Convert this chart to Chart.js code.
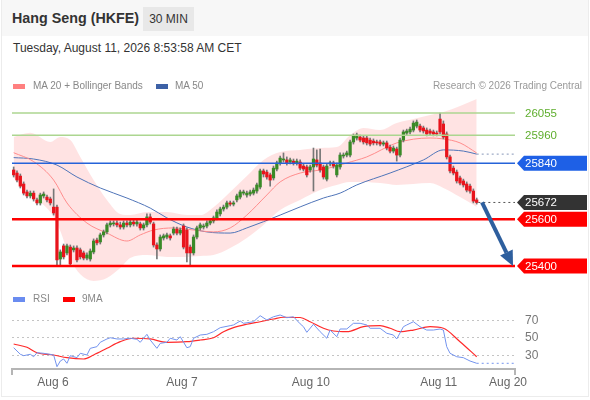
<!DOCTYPE html>
<html>
<head>
<meta charset="utf-8">
<script src="https://cdn.jsdelivr.net/npm/chart.js@4.4.1/dist/chart.umd.min.js"></script>
<style>
  body { margin: 0; background: #fff; font-family: Arial, "Liberation Sans", sans-serif; }
  #wrap { position: relative; width: 590px; height: 400px; overflow: hidden; }
  .frame { position: absolute; left: 1px; top: 0; width: 586px; height: 396px; border: 1px solid #ececec; border-top: none; }
  .head { position: absolute; left: 2px; top: 0; width: 586px; height: 36px; background: #f7f7f7; }
  .title { position: absolute; left: 12px; top: 10px; font-size: 14.3px; font-weight: bold; color: #333; }
  .tf { position: absolute; left: 143px; top: 7px; width: 51px; height: 24px; background: #e8e8e8; font-size: 12px; color: #333; line-height: 24px; text-align: center; }
  .date { position: absolute; left: 13px; top: 41px; font-size: 12px; color: #333; }
  .leg { position: absolute; font-size: 10px; color: #888; white-space: nowrap; }
  .sw { position: absolute; width: 12px; height: 5px; }
  canvas { position: absolute; left: 0; }
</style>
</head>
<body>
<div id="wrap">
  <div class="frame"></div>
  <div class="head"></div>
  <div class="title">Hang Seng (HKFE)</div>
  <div class="tf">30 MIN</div>
  <div class="date">Tuesday, August 11, 2026 8:53:58 AM CET</div>

  <canvas id="main" width="590" height="200" style="top:88px"></canvas>
  <canvas id="rsi" width="590" height="108" style="top:290px"></canvas>

  <div class="sw" style="left:13px;top:84px;background:#ff8080"></div>
  <div class="leg" style="left:33px;top:80px">MA 20 + Bollinger Bands</div>
  <div class="sw" style="left:156px;top:84px;background:#3d61a6"></div>
  <div class="leg" style="left:175px;top:80px">MA 50</div>
  <div class="leg" style="right:8px;top:80px;color:#999">Research © 2026 Trading Central</div>

  <div class="sw" style="left:13px;top:297px;background:#6a8cf0"></div>
  <div class="leg" style="left:33px;top:293px">RSI</div>
  <div class="sw" style="left:63px;top:297px;background:#ff0000"></div>
  <div class="leg" style="left:82px;top:293px">9MA</div>
</div>

<script>
// 30 min candles, Aug 6 -> Aug 11 (index = candle number)
const opens = [25811,25798,25785,25751,25717,25700,25712,25683,25670,25700,25695,25687,25652,25652,25430,25486,25456,25481,25469,25477,
  25469,25456,25434,25430,25460,25511,25503,25533,25546,25576,25580,25584,25576,25567,25584,25576,25588,25580,25580,25563,
  25576,25610,25580,25490,25473,25520,25524,25529,25541,25558,25541,25571,25554,25481,25456,25524,25563,25567,25571,25584,
  25593,25606,25623,25644,25652,25670,25665,25683,25695,25712,25704,25708,25712,25721,25738,25807,25802,25790,25777,25815,
  25841,25854,25854,25845,25849,25841,25845,25828,25824,25811,25824,25854,25841,25824,25772,25837,25841,25790,25824,25871,
  25875,25875,25931,25948,25952,25948,25948,25939,25935,25931,25931,25922,25927,25909,25892,25901,25875,25939,25969,25974,
  25982,25999,25999,25991,25982,25978,25974,25969,26029,26008,25965,25867,25819,25802,25777,25764,25751,25742,25721,25683];
const closes = [25790,25768,25742,25712,25700,25712,25687,25670,25704,25708,25683,25670,25627,25426,25460,25439,25486,25409,25477,25426,
  25439,25434,25447,25464,25507,25499,25533,25546,25576,25584,25584,25576,25567,25584,25576,25588,25580,25588,25563,25576,
  25610,25588,25490,25473,25524,25529,25533,25520,25558,25541,25554,25481,25456,25456,25524,25563,25576,25571,25584,25593,
  25606,25631,25644,25652,25670,25665,25670,25700,25717,25717,25712,25717,25725,25747,25807,25794,25781,25768,25819,25841,
  25862,25858,25841,25854,25841,25849,25819,25815,25790,25824,25858,25832,25811,25781,25828,25841,25828,25832,25875,25875,
  25884,25931,25957,25961,25939,25931,25927,25922,25927,25927,25922,25927,25905,25892,25905,25875,25939,25974,25978,25986,
  26012,26016,25982,25978,25965,25969,25965,25965,25974,25952,25867,25807,25798,25764,25755,25747,25725,25721,25678,25672];
const highs = [25824,25807,25794,25760,25725,25721,25721,25691,25712,25717,25704,25695,25730,25661,25469,25494,25494,25490,25486,25486,
  25477,25464,25456,25473,25516,25520,25541,25554,25584,25593,25593,25593,25588,25593,25593,25597,25597,25597,25588,25584,
  25623,25623,25588,25499,25533,25537,25541,25537,25567,25567,25563,25580,25563,25490,25533,25571,25584,25580,25593,25601,
  25614,25640,25652,25661,25678,25678,25678,25708,25725,25725,25721,25725,25734,25755,25815,25815,25811,25798,25828,25849,
  25871,25884,25867,25862,25858,25858,25854,25837,25832,25832,25905,25897,25901,25832,25837,25849,25849,25841,25884,25884,
  25892,25939,25965,25969,25961,25957,25957,25948,25944,25939,25939,25935,25935,25918,25914,25909,25948,25982,25986,25995,
  26021,26025,26008,25999,25991,25986,25982,25978,26055,26021,25974,25875,25828,25811,25785,25772,25760,25751,25730,25691];
const lows = [25781,25760,25734,25704,25691,25691,25678,25661,25661,25691,25674,25661,25618,25404,25400,25430,25447,25404,25460,25417,
  25430,25426,25426,25421,25452,25490,25494,25524,25537,25567,25571,25567,25558,25558,25567,25567,25571,25571,25554,25554,
  25567,25580,25481,25430,25464,25511,25516,25511,25533,25533,25533,25473,25417,25404,25447,25516,25554,25558,25563,25576,
  25584,25597,25614,25635,25644,25657,25657,25674,25687,25704,25695,25700,25704,25712,25730,25781,25772,25742,25768,25807,
  25832,25845,25832,25837,25832,25832,25811,25807,25781,25802,25721,25824,25802,25772,25764,25828,25819,25781,25815,25862,
  25867,25867,25922,25939,25931,25922,25918,25914,25918,25918,25914,25914,25897,25884,25884,25849,25867,25931,25961,25965,
  25974,25991,25974,25969,25957,25961,25957,25957,25965,25944,25858,25798,25790,25755,25747,25738,25717,25712,25670,25665];

// indicators at these candle indices
const ma20Idx = [0,6,12,16,22,28,34,38,42,48,54,60,65,70,76,80,86,92,97,100,106,115,125,129,134,139];
const ma20Val = [25885,25847,25768,25670,25584,25541,25507,25533,25554,25563,25554,25546,25563,25618,25704,25760,25798,25811,25828,25841,25867,25927,25948,25944,25927,25884];
const ma50Idx = [0,6,13,19,26,34,41,46,52,58,65,70,80,86,93,98,103,113,123,129,135,139];
const ma50Val = [25864,25858,25832,25781,25734,25691,25648,25606,25567,25546,25541,25563,25618,25653,25691,25712,25747,25798,25854,25897,25892,25879];
const bbIdx = [0,5,11,14,17,20,24,28,32,35,40,46,52,56,60,65,70,75,80,86,92,97,101,105,110,115,120,125,129,134,139];
const bbUpper = [25952,25970,25931,25952,25939,25867,25768,25683,25623,25618,25631,25631,25618,25618,25652,25717,25785,25854,25888,25897,
  25905,25909,25960,25991,25982,26012,26029,26046,26059,26085,26115];
const bbLower = [25777,25704,25631,25550,25430,25365,25336,25349,25391,25434,25447,25439,25439,25443,25447,25477,25520,25576,25640,25683,
  25725,25747,25760,25760,25755,25747,25751,25755,25734,25695,25653];

const levelPrices = [26055, 25960, 25840, 25600, 25400];
const targetPrice = 25400;

const rsiIdx = [0,2,3,5,6,7,9,12,13,14,15,16,17,19,20,22,23,25,26,28,29,31,33,35,37,38,40,41,43,44,46,47,49,50,52,53,54,56,58,60,
  62,65,66,68,69,72,74,76,78,80,82,84,86,87,88,90,92,94,95,97,98,100,102,104,106,107,110,112,114,115,117,118,120,122,124,126,128,129,130,131,133,135,137,139];
const rsiVal = [38.9,31.4,29.8,31.4,28.6,33.2,32.5,30.6,17.2,23.7,26,21.1,29.8,27.5,32.5,30.6,38.2,40.1,45.1,48.9,50.3,48.9,48.9,49.7,48.5,45.1,54.2,47.7,38.2,43.9,
  45.1,49.7,47.7,51.5,38.9,40.1,49.7,53.4,54.2,57.2,61.8,64.1,64.9,69.4,66.8,68.6,75.5,70.6,74.3,76.3,73.2,74.3,66.2,62.9,56.5,65.7,57.2,49.7,59.1,51.5,
  60.3,60.3,66.8,66.8,64.9,61.1,61.1,55.4,53.4,48.9,62.9,64.9,68.6,62.9,59.1,59.1,60.3,59.1,40.1,32.5,28.6,27.5,23.7,21.1];
const rsiMaIdx = [0,4,7,12,16,21,24,28,32,36,41,46,52,56,60,63,66,70,74,78,81,86,89,93,96,100,105,110,113,116,120,125,129,134,139];
const rsiMaVal = [43.1,39.4,33.2,30.6,27.5,26,30.6,38.2,45.8,49.7,48.9,45.1,45.8,47.7,50.3,57.2,61.8,65.7,68.6,71.7,73.7,73.4,68.6,61.1,58,57.2,62.9,64.1,61.1,57.2,
  59.1,62.9,61.1,45.8,28.6];
const rsiTicks = [30, 50, 70];

const dayTickPos = [11.8, 50.5, 89.2, 127.6, 148.4];
const dayLabels = ['Aug 6', 'Aug 7', 'Aug 10', 'Aug 11', 'Aug 20'];

// styles
const FONT = 'Arial, "Liberation Sans", sans-serif';
const UP = '#3a8a27', DOWN = '#e8141c';
const levelLineColor = ['#acd690', '#acd690', '#2563d9', '#ff0000', '#ff0000'];
const levelLineWidth = [1.5, 1.5, 1.5, 2.5, 2.5];
const levelLabelKind = ['text', 'text', 'tag', 'tag', 'tag'];
const levelLabelColor = ['#5fae2e', '#5fae2e', '#1e60e6', '#ff0000', '#ff0000'];

Chart.defaults.font.family = FONT;

const pts = (idx, vals) => idx.map((x, k) => ({ x: x, y: vals[k] }));
const n = closes.length;
const lastClose = closes[n - 1];
const XMAX = 150.5;

const datasets = [];

// level lines on top of candles
levelPrices.forEach((p, i) => {
  datasets.push({
    type: 'line', data: [{ x: -0.5, y: p }, { x: XMAX, y: p }],
    borderColor: levelLineColor[i], borderWidth: levelLineWidth[i], pointRadius: 0, order: -1
  });
});
datasets.push({
  type: 'line', data: [{ x: n - 0.5, y: lastClose }, { x: XMAX, y: lastClose }],
  borderColor: '#555', borderWidth: 1, borderDash: [2, 3], pointRadius: 0, order: -1
});

// candle bodies and wicks
datasets.push({
  type: 'bar', data: opens.map((o, i) => ({ x: i, y: [o, closes[i]] })),
  backgroundColor: opens.map((o, i) => closes[i] >= o ? UP : DOWN),
  barThickness: 2.6, grouped: false, minBarLength: 1, order: 0
});
datasets.push({
  type: 'bar', data: lows.map((l, i) => ({ x: i, y: [l, highs[i]] })),
  backgroundColor: '#777', barThickness: 1, grouped: false, order: 1
});

// moving averages
datasets.push({
  type: 'line', data: pts(ma20Idx, ma20Val), borderColor: '#ff8c8c', borderWidth: 1,
  pointRadius: 0, cubicInterpolationMode: 'monotone', order: 2
});
datasets.push({
  type: 'line', data: pts(ma50Idx, ma50Val), borderColor: '#4f74b8', borderWidth: 1,
  pointRadius: 0, cubicInterpolationMode: 'monotone', order: 2
});
datasets.push({
  type: 'line', data: [{ x: ma50Idx[ma50Idx.length - 1], y: ma50Val[ma50Val.length - 1] }, { x: XMAX, y: ma50Val[ma50Val.length - 1] }],
  borderColor: '#8796b8', borderWidth: 1, borderDash: [2, 3], pointRadius: 0, order: 2
});

// bollinger band (upper fills down to the next dataset)
datasets.push({
  type: 'line', data: pts(bbIdx, bbUpper), borderWidth: 0, borderColor: 'transparent',
  backgroundColor: 'rgba(255,0,0,0.11)', fill: '+1', pointRadius: 0, cubicInterpolationMode: 'monotone', order: 5
});
datasets.push({
  type: 'line', data: pts(bbIdx, bbLower), borderWidth: 0, borderColor: 'transparent',
  pointRadius: 0, cubicInterpolationMode: 'monotone', order: 5
});

const tagPlugin = {
  id: 'tags',
  afterDraw(chart) {
    const { ctx, chartArea, scales: { y } } = chart;
    const items = levelPrices.map((p, i) => ({ p: p, kind: levelLabelKind[i], color: levelLabelColor[i] }));
    items.push({ p: lastClose, kind: 'tag', color: '#333' });
    ctx.save();
    ctx.font = '11.5px ' + FONT;
    ctx.textBaseline = 'middle';
    items.forEach(t => {
      const yy = y.getPixelForValue(t.p);
      const x0 = chartArea.right + 2;
      if (t.kind === 'tag') {
        ctx.fillStyle = t.color;
        ctx.beginPath();
        ctx.moveTo(x0, yy);
        ctx.lineTo(x0 + 7, yy - 7.5);
        ctx.lineTo(x0 + 70, yy - 7.5);
        ctx.lineTo(x0 + 70, yy + 7.5);
        ctx.lineTo(x0 + 7, yy + 7.5);
        ctx.closePath();
        ctx.fill();
        ctx.fillStyle = '#fff';
      } else {
        ctx.fillStyle = t.color;
      }
      ctx.fillText(String(t.p), x0 + 8, yy + 0.5);
    });
    ctx.restore();
  }
};

const arrowPlugin = {
  id: 'arrow',
  afterDatasetsDraw(chart) {
    const { ctx, scales: { x, y } } = chart;
    const x1 = x.getPixelForValue(n + 0.6), y1 = y.getPixelForValue(lastClose);
    const x2 = x.getPixelForValue(n + 9.9), y2 = y.getPixelForValue(targetPrice);
    const ang = Math.atan2(y2 - y1, x2 - x1);
    const hl = 15, hw = 7;
    const bx = x2 - hl * Math.cos(ang), by = y2 - hl * Math.sin(ang);
    ctx.save();
    ctx.strokeStyle = '#2e5f9e';
    ctx.fillStyle = '#2e5f9e';
    ctx.lineWidth = 4;
    ctx.beginPath();
    ctx.moveTo(x1, y1);
    ctx.lineTo(bx, by);
    ctx.stroke();
    ctx.beginPath();
    ctx.moveTo(x2, y2);
    ctx.lineTo(bx + hw * Math.sin(ang), by - hw * Math.cos(ang));
    ctx.lineTo(bx - hw * Math.sin(ang), by + hw * Math.cos(ang));
    ctx.closePath();
    ctx.fill();
    ctx.restore();
  }
};

new Chart(document.getElementById('main'), {
  type: 'bar',
  data: { datasets: datasets },
  options: {
    responsive: false,
    animation: false,
    layout: { padding: { left: 12, right: 75, top: 2, bottom: 3 } },
    scales: {
      x: { type: 'linear', min: -0.5, max: XMAX, offset: false, display: false },
      y: { type: 'linear', min: 25318.66, max: 26153.46, beginAtZero: false, display: false }
    },
    plugins: { legend: { display: false }, tooltip: { enabled: false } }
  },
  plugins: [tagPlugin, arrowPlugin]
});

const endTicks = {
  id: 'endTicks',
  afterDraw(chart) {
    const { ctx, chartArea: a } = chart;
    ctx.save();
    ctx.strokeStyle = '#b5b5b5';
    ctx.lineWidth = 2;
    [a.left, a.right].forEach(px => {
      ctx.beginPath();
      ctx.moveTo(px, a.bottom);
      ctx.lineTo(px, a.bottom + 6);
      ctx.stroke();
    });
    ctx.restore();
  }
};

const noPad = s => { s.paddingTop = 0; s.paddingBottom = 0; s.paddingLeft = 0; s.paddingRight = 0; };

const lastRsi = rsiVal[rsiVal.length - 1];
new Chart(document.getElementById('rsi'), {
  type: 'line',
  data: {
    datasets: [
      { data: pts(rsiIdx, rsiVal), borderColor: '#7393ee', borderWidth: 1, pointRadius: 0, tension: 0 },
      { data: [{ x: rsiIdx[rsiIdx.length - 1], y: lastRsi }, { x: XMAX, y: lastRsi }], borderColor: '#7393ee',
        borderWidth: 1, borderDash: [2, 3], pointRadius: 0 },
      { data: pts(rsiMaIdx, rsiMaVal), borderColor: '#ff2a2a', borderWidth: 1.2, pointRadius: 0, cubicInterpolationMode: 'monotone' }
    ]
  },
  options: {
    responsive: false,
    animation: false,
    layout: { padding: { left: 12, right: 0, top: 10, bottom: 0 } },
    scales: {
      x: {
        type: 'linear', min: -0.5, max: XMAX, offset: false,
        afterBuildTicks: s => { s.ticks = dayTickPos.map(v => ({ value: v })); },
        afterFit: s => { s.height = 29; noPad(s); },
        ticks: { callback: (v, i) => dayLabels[i], color: '#666', font: { size: 12 }, padding: 6, maxRotation: 0, autoSkip: false },
        grid: { display: false, drawTicks: false },
        border: { display: true, color: '#b5b5b5', width: 2 }
      },
      y: {
        position: 'right', min: 14.57, max: 93.43,
        afterBuildTicks: s => { s.ticks = rsiTicks.map(v => ({ value: v })); },
        afterFit: s => { s.width = 75; noPad(s); },
        ticks: { color: '#777', font: { size: 12 }, padding: 10 },
        grid: { color: '#c4c4c4', drawTicks: false, lineWidth: 1 },
        border: { display: false, dash: [2, 3] }
      }
    },
    plugins: { legend: { display: false }, tooltip: { enabled: false } }
  },
  plugins: [endTicks]
});
</script>
</body>
</html>
